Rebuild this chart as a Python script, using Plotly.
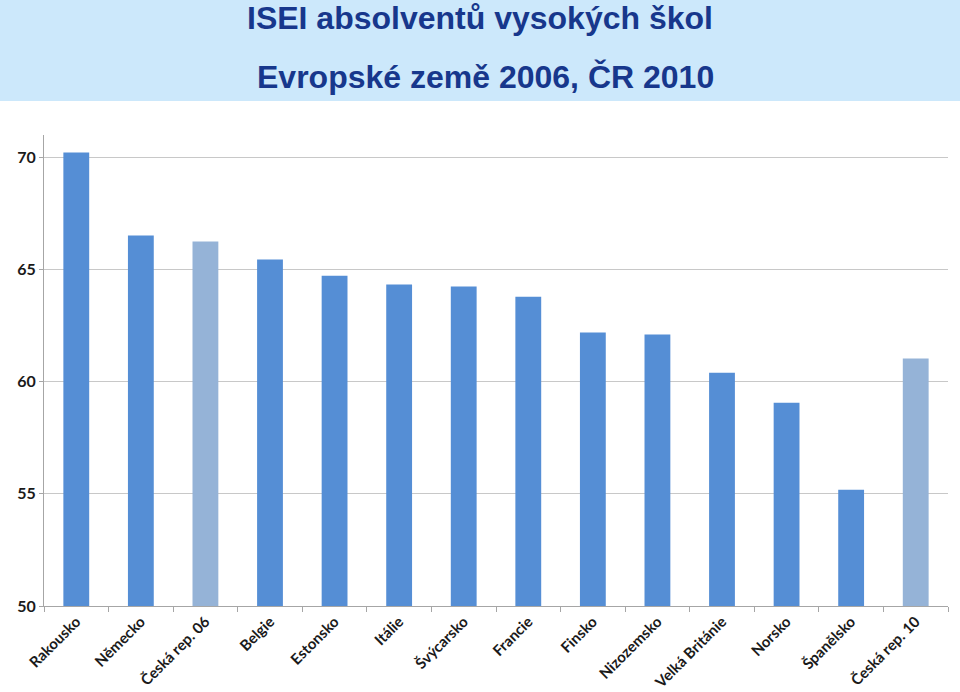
import plotly.graph_objects as go

# data
countries = ["Rakousko", "Německo", "Česká rep. 06", "Belgie", "Estonsko", "Itálie",
             "Švýcarsko", "Francie", "Finsko", "Nizozemsko", "Velká Británie",
             "Norsko", "Španělsko", "Česká rep. 10"]
isei = [70.22, 66.52, 66.25, 65.45, 64.73, 64.33, 64.24, 63.79, 62.19, 62.1,
        60.4, 59.06, 55.18, 61.03]
y_ticks = [50, 55, 60, 65, 70]

# ČR bars are lighter
colors = ["#95B3D7" if c.startswith("Česká") else "#558ED5" for c in countries]

fig = go.Figure()
fig.add_trace(go.Bar(x=countries, y=isei, marker=dict(color=colors, line=dict(width=0)),
                     width=0.4, showlegend=False))

title_font = dict(family="Liberation Sans, Arial", size=32, color="#17378C")
# Lato is the closest installed match to Calibri
x_font = dict(family="Lato", size=15, color="#1a1a1a", weight="bold")
y_font = dict(family="Lato", size=16, color="#1a1a1a", weight="bold")

fig.update_layout(
    width=960, height=692,
    margin=dict(l=44, r=12, t=135, b=86),
    paper_bgcolor="white", plot_bgcolor="white",
    shapes=[dict(type="rect", xref="paper", yref="paper",
                 x0=-0.06, x1=1.03, y0=1.0722, y1=1.3,
                 fillcolor="#CCE8FB", line=dict(width=0), layer="below")],
    annotations=[
        dict(text="<b>ISEI absolventů vysokých škol</b>", xref="paper", yref="paper",
             x=(480 - 44) / 904, y=(606 - 18) / 471, xanchor="center", yanchor="middle",
             showarrow=False, font=title_font),
        dict(text="<b>Evropské země 2006, ČR 2010</b>", xref="paper", yref="paper",
             x=(485 - 44) / 904, y=(606 - 77) / 471, xanchor="center", yanchor="middle",
             showarrow=False, font=title_font),
    ],
    xaxis=dict(showline=True, linecolor="#A6A6A6", linewidth=1, automargin=False,
               ticks="outside", tickson="boundaries", ticklen=5, tickcolor="#A6A6A6",
               tickangle=-45, showgrid=False, tickfont=x_font),
    yaxis=dict(range=[50, 71], tickvals=y_ticks, showline=True, linecolor="#A6A6A6",
               linewidth=1, ticks="outside", ticklen=4, tickcolor="#A6A6A6", automargin=False,
               showgrid=True, gridcolor="#C8C8C8", gridwidth=1, zeroline=False,
               tickfont=y_font),
    bargap=0.6,
)

# drop the page's default body margin so the figure sits at the window corner
fig.write_html("out.html", config={"displayModeBar": False},
               post_script="document.body.style.margin='0';")
